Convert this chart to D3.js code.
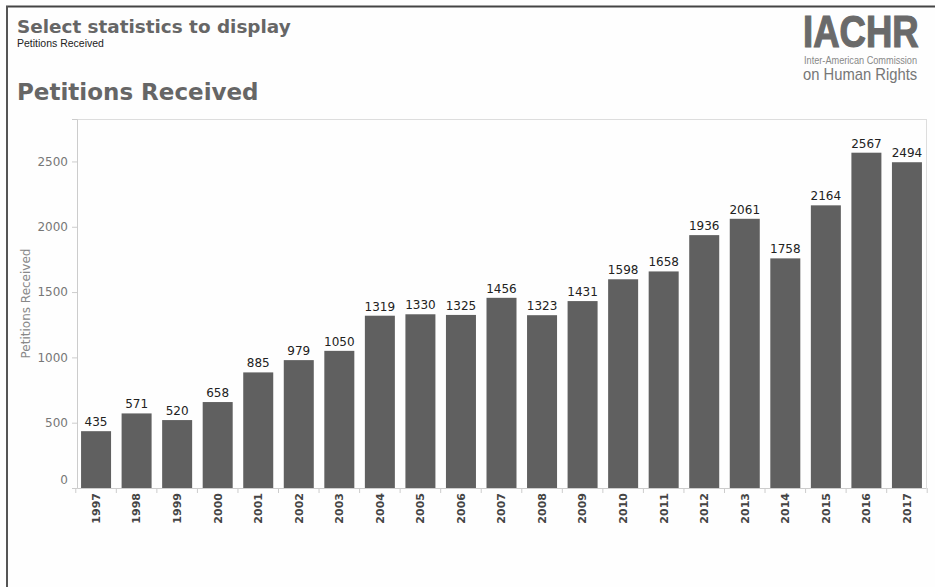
<!DOCTYPE html>
<html>
<head>
<meta charset="utf-8">
<script src="https://cdn.jsdelivr.net/npm/d3@7"></script>
<style>
  html, body { margin: 0; padding: 0; background: #fff; }
  svg { display: block; }
</style>
</head>
<body>
<svg id="chart" width="935" height="587"></svg>
<script>
const years = ["1997","1998","1999","2000","2001","2002","2003","2004","2005","2006","2007","2008","2009","2010","2011","2012","2013","2014","2015","2016","2017"];
const petitions = [435,571,520,658,885,979,1050,1319,1330,1325,1456,1323,1431,1598,1658,1936,2061,1758,2164,2567,2494];
const yTicks = [0,500,1000,1500,2000,2500];
const pageTitle = "Select statistics to display";
const selection = "Petitions Received";
const chartTitle = "Petitions Received";
const yTitle = "Petitions Received";

(function () {
const svg = d3.select("#chart");

// page frame
svg.append("rect").attr("x", 0).attr("y", 0).attr("width", 935).attr("height", 587).attr("fill", "#fefefe");
svg.append("line").attr("x1", 6).attr("x2", 935).attr("y1", 6.5).attr("y2", 6.5).attr("stroke", "#444").attr("stroke-width", 2);
svg.append("line").attr("x1", 7).attr("x2", 7).attr("y1", 6).attr("y2", 587).attr("stroke", "#555").attr("stroke-width", 2);

// header texts
svg.append("text").attr("x", 17).attr("y", 33).text(pageTitle)
  .attr("font-family", "DejaVu Sans").attr("font-weight", "bold").attr("font-size", 18.4).attr("fill", "#666");
svg.append("text").attr("x", 17).attr("y", 47).text(selection)
  .attr("font-family", "Liberation Sans, Arial").attr("font-size", 10.5).attr("fill", "#222");
svg.append("text").attr("x", 17).attr("y", 100).text(chartTitle)
  .attr("font-family", "DejaVu Sans").attr("font-weight", "bold").attr("font-size", 23).attr("fill", "#666");

// logo
const logo = svg.append("g");
logo.append("g").attr("transform", "translate(803,47) scale(0.83,1)")
  .append("text").attr("x", 0).attr("y", 0).text("IACHR")
  .attr("font-family", "Liberation Sans, Arial").attr("font-weight", "bold")
  .attr("font-size", 44).attr("fill", "#6a6a6a").attr("stroke", "#6a6a6a").attr("stroke-width", 1.2);
logo.append("g").attr("transform", "translate(804,64) scale(0.9,1)")
  .append("text").attr("x", 0).attr("y", 0).text("Inter-American Commission")
  .attr("font-family", "Liberation Sans, Arial")
  .attr("font-size", 10.2).attr("fill", "#888");
logo.append("g").attr("transform", "translate(803,80) scale(0.87,1)")
  .append("text").attr("x", 0).attr("y", 0).text("on Human Rights")
  .attr("font-family", "Liberation Sans, Arial")
  .attr("font-size", 17).attr("fill", "#777");

// plot
const pL = 77, pR = 926, pT = 119, pB = 488;
const x = d3.scaleBand().domain(years).range([pL, pR]).paddingInner(0.26).paddingOuter(0.1);
const y = d3.scaleLinear().domain([0, 2825]).range([pB, pT]);

// frame
svg.append("line").attr("x1", pL).attr("x2", pR).attr("y1", pT + 0.5).attr("y2", pT + 0.5).attr("stroke", "#ddd");
svg.append("line").attr("x1", pR + 0.5).attr("x2", pR + 0.5).attr("y1", pT).attr("y2", pB).attr("stroke", "#ddd");

// bars
svg.append("g").selectAll("rect").data(years).join("rect")
  .attr("x", d => x(d))
  .attr("width", x.bandwidth())
  .attr("y", (d, i) => y(petitions[i]))
  .attr("height", (d, i) => y(0) - y(petitions[i]))
  .attr("fill", "#606060");

// value labels
svg.append("g").selectAll("text").data(years).join("text")
  .attr("x", d => x(d) + x.bandwidth() / 2)
  .attr("y", (d, i) => y(petitions[i]) - 5)
  .attr("text-anchor", "middle")
  .attr("font-family", "DejaVu Sans").attr("font-size", 12).attr("fill", "#222")
  .text((d, i) => petitions[i]);

// y axis
const yAxis = svg.append("g").attr("transform", `translate(${pL},0)`)
  .call(d3.axisLeft(y).tickValues(yTicks).tickFormat(d3.format("d")).tickSize(5).tickPadding(4));
yAxis.select(".domain").attr("stroke", "#ccc");
yAxis.selectAll(".tick line").attr("stroke", "#ccc");
yAxis.selectAll(".tick text").attr("font-family", "DejaVu Sans").attr("font-size", 12).attr("fill", "#777");
yAxis.selectAll(".tick").filter(d => d === 0).select("text").attr("dy", "-0.4em");

svg.append("text")
  .attr("transform", `translate(30,${(pT + pB) / 2}) rotate(-90)`)
  .attr("text-anchor", "middle")
  .attr("font-family", "DejaVu Sans").attr("font-size", 12).attr("fill", "#888")
  .text(yTitle);

// x axis
const xAxis = svg.append("g").attr("transform", `translate(0,${pB})`)
  .call(d3.axisBottom(x).tickSize(0).tickPadding(0));
xAxis.select(".domain").attr("stroke", "#ccc");
xAxis.selectAll(".tick text")
  .attr("transform", "rotate(-90)")
  .attr("text-anchor", "end")
  .attr("x", -5).attr("y", 0).attr("dy", "0.35em")
  .attr("font-family", "DejaVu Sans").attr("font-weight", "bold").attr("font-size", 11).attr("fill", "#444");
// band boundary ticks
const half = x.step() * x.paddingInner() / 2;
const bounds = years.map(d => x(d) - half).concat([x(years[years.length - 1]) + x.bandwidth() + half]);
svg.append("g").selectAll("line").data(bounds).join("line")
  .attr("x1", d => d).attr("x2", d => d)
  .attr("y1", pB).attr("y2", pB + 5)
  .attr("stroke", "#ccc");
})();
</script>
</body>
</html>
